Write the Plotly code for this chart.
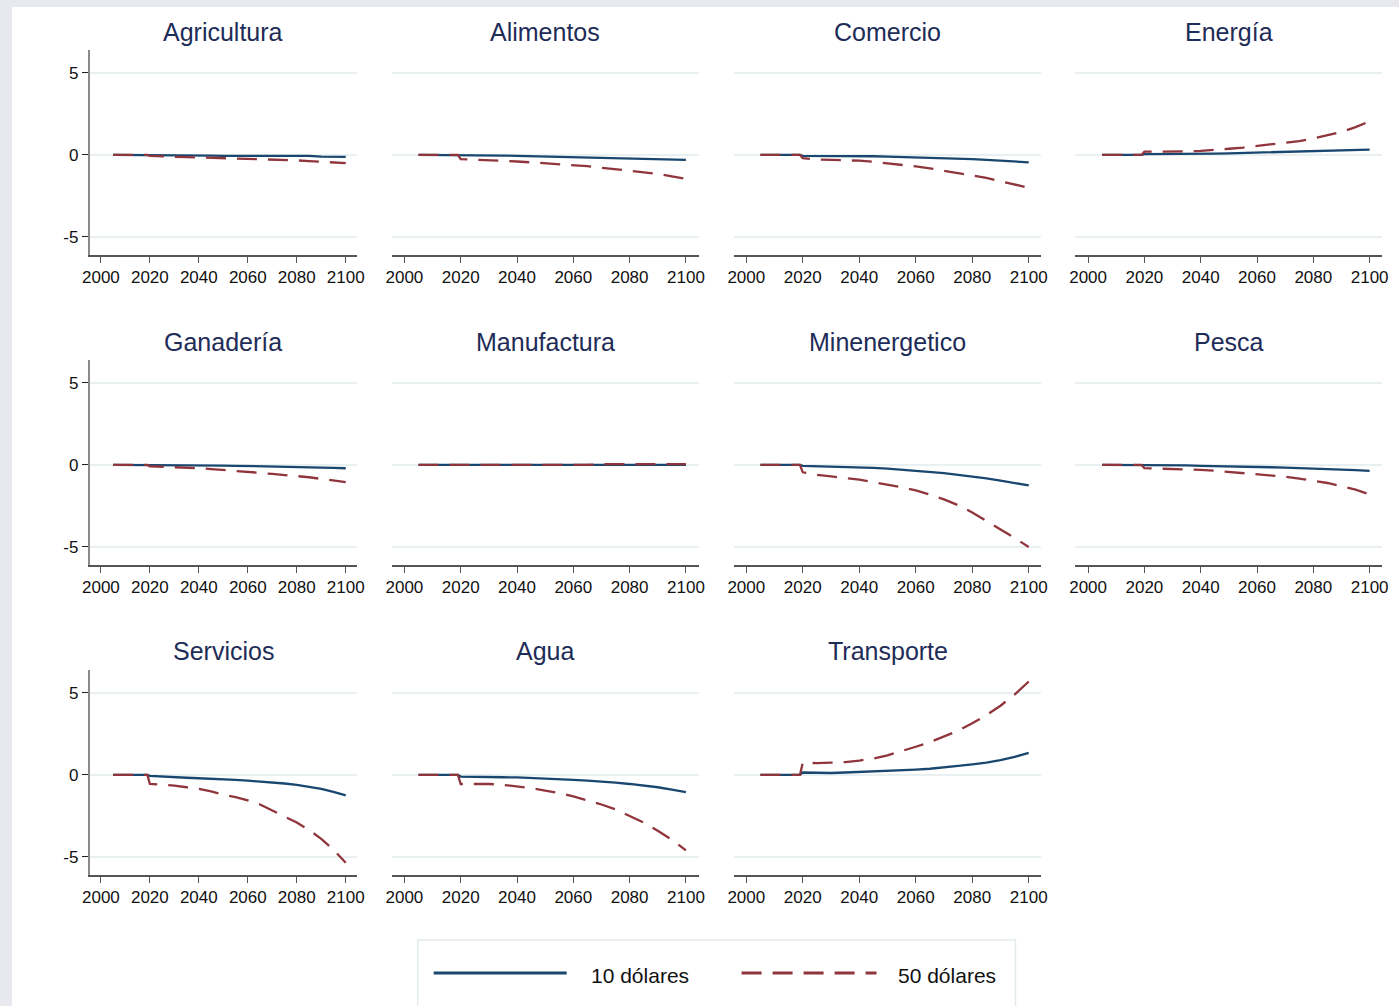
import plotly.graph_objects as go

# Sectoral impact paths (percent change) under two carbon-price scenarios
years = [2005, 2010, 2015, 2019, 2020, 2025, 2030, 2035, 2040, 2045, 2050,
         2055, 2060, 2065, 2070, 2075, 2080, 2085, 2090, 2095, 2100]

sectors = ["Agricultura", "Alimentos", "Comercio", "Energía",
           "Ganadería", "Manufactura", "Minenergetico", "Pesca",
           "Servicios", "Agua", "Transporte"]

agricultura_10 = [0, 0, 0, 0, 0, 0, 0, -0.03, -0.04, -0.04, -0.05, -0.05, -0.05, -0.05, -0.05, -0.05, -0.05, -0.06, -0.1, -0.11, -0.12]
agricultura_50 = [0, 0, 0, 0, -0.05, -0.1, -0.12, -0.13, -0.15, -0.16, -0.18, -0.2, -0.22, -0.25, -0.28, -0.3, -0.33, -0.37, -0.4, -0.45, -0.5]

alimentos_10 = [0, 0, 0, 0, 0, -0.02, -0.03, -0.04, -0.05, -0.07, -0.08, -0.1, -0.12, -0.14, -0.16, -0.18, -0.2, -0.22, -0.25, -0.28, -0.3]
alimentos_50 = [0, 0, 0, 0, -0.25, -0.28, -0.3, -0.35, -0.4, -0.45, -0.5, -0.55, -0.6, -0.68, -0.78, -0.88, -0.95, -1.05, -1.15, -1.3, -1.45]

comercio_10 = [0, 0, 0, 0, -0.05, -0.05, -0.05, -0.05, -0.06, -0.08, -0.1, -0.12, -0.15, -0.17, -0.2, -0.22, -0.25, -0.3, -0.35, -0.4, -0.45]
comercio_50 = [0, 0, 0, 0, -0.2, -0.28, -0.3, -0.32, -0.35, -0.42, -0.5, -0.6, -0.7, -0.82, -0.95, -1.1, -1.25, -1.4, -1.6, -1.8, -2.0]

energia_10 = [0, 0, 0, 0, 0.05, 0.05, 0.05, 0.06, 0.07, 0.08, 0.1, 0.12, 0.15, 0.16, 0.18, 0.19, 0.2, 0.22, 0.25, 0.28, 0.32]
energia_50 = [0, 0, 0, 0, 0.2, 0.2, 0.2, 0.22, 0.25, 0.3, 0.38, 0.45, 0.55, 0.62, 0.72, 0.85, 1.0, 1.18, 1.4, 1.7, 2.05]

ganaderia_10 = [0, 0, 0, 0, 0, 0, 0, 0, -0.01, -0.02, -0.04, -0.05, -0.06, -0.08, -0.1, -0.11, -0.12, -0.14, -0.16, -0.18, -0.2]
ganaderia_50 = [0, 0, 0, 0, -0.08, -0.1, -0.12, -0.15, -0.2, -0.25, -0.3, -0.35, -0.4, -0.48, -0.55, -0.6, -0.68, -0.75, -0.85, -0.95, -1.05]

manufactura_10 = [0, 0, 0, 0, 0, 0, 0, 0, 0, 0, 0, 0, 0, 0, 0, 0, 0, 0, 0, 0, 0]
manufactura_50 = [0, 0, 0, 0, 0.03, 0.03, 0.02, 0.02, 0, 0, 0, 0, 0, 0, 0.05, 0.05, 0.05, 0.05, 0.05, 0.05, 0.05]

minenergetico_10 = [0, 0, 0, 0, -0.05, -0.07, -0.1, -0.12, -0.15, -0.18, -0.22, -0.28, -0.35, -0.42, -0.5, -0.6, -0.7, -0.82, -0.95, -1.1, -1.25]
minenergetico_50 = [0, 0, 0, 0, -0.45, -0.6, -0.7, -0.8, -0.9, -1.05, -1.2, -1.35, -1.55, -1.8, -2.1, -2.45, -2.9, -3.4, -3.95, -4.45, -5.0]

pesca_10 = [0, 0, 0, 0, 0, 0, -0.02, -0.03, -0.05, -0.06, -0.08, -0.1, -0.12, -0.14, -0.16, -0.18, -0.2, -0.24, -0.28, -0.32, -0.36]
pesca_50 = [0, 0, 0, 0, -0.2, -0.22, -0.25, -0.27, -0.3, -0.35, -0.42, -0.48, -0.55, -0.63, -0.72, -0.83, -0.95, -1.1, -1.3, -1.5, -1.8]

servicios_10 = [0, 0, 0, 0, -0.05, -0.1, -0.15, -0.17, -0.2, -0.22, -0.25, -0.3, -0.35, -0.4, -0.45, -0.52, -0.6, -0.72, -0.85, -1.03, -1.25]
servicios_50 = [0, 0, 0, 0, -0.55, -0.6, -0.65, -0.75, -0.85, -1.0, -1.2, -1.35, -1.55, -1.8, -2.15, -2.5, -2.9, -3.35, -3.9, -4.55, -5.35]

agua_10 = [0, 0, 0, 0, -0.1, -0.1, -0.12, -0.14, -0.15, -0.18, -0.2, -0.25, -0.3, -0.35, -0.4, -0.47, -0.55, -0.65, -0.75, -0.9, -1.05]
agua_50 = [0, 0, 0, 0, -0.55, -0.55, -0.55, -0.6, -0.7, -0.8, -0.95, -1.1, -1.3, -1.55, -1.8, -2.1, -2.5, -2.9, -3.4, -3.95, -4.6]

transporte_10 = [0, 0, 0, 0, 0.15, 0.13, 0.12, 0.15, 0.18, 0.2, 0.25, 0.28, 0.33, 0.38, 0.45, 0.55, 0.65, 0.75, 0.9, 1.1, 1.35]
transporte_50 = [0, 0, 0, 0, 0.75, 0.72, 0.75, 0.78, 0.88, 1.0, 1.2, 1.45, 1.72, 2.0, 2.33, 2.7, 3.15, 3.65, 4.22, 4.9, 5.7]

series_10 = [agricultura_10, alimentos_10, comercio_10, energia_10,
             ganaderia_10, manufactura_10, minenergetico_10, pesca_10,
             servicios_10, agua_10, transporte_10]
series_50 = [agricultura_50, alimentos_50, comercio_50, energia_50,
             ganaderia_50, manufactura_50, minenergetico_50, pesca_50,
             servicios_50, agua_50, transporte_50]

x_ticks = [2000, 2020, 2040, 2060, 2080, 2100]
y_ticks = [-5, 0, 5]
y_tick_labels = ["-5", "0", "5"]
legend_labels = ["10 dólares", "50 dólares"]

W, H = 1399, 1006
BLUE = "#1a476f"
RED = "#90353b"
TITLE_COLOR = "#1e2c58"
GRID = "#e8f0f2"
AXIS = "#555555"
FONT = "Liberation Sans, Arial, sans-serif"
DASH = "20px,11px"


def px_x(p):
    # horizontal pixel position -> paper fraction (page offset corrected)
    return ((p - 7.1) / 0.989) / W


def px_y(p):
    return 1 - p / H


# pixel extents of each panel column / row
col_px = [(89, 356), (391, 698), (733, 1041), (1075, 1382)]
row_px = [(50, 255), (360, 565), (670, 875)]
title_px = [32, 342, 651]

fig = go.Figure()
annotations = []

for i, name in enumerate(sectors):
    r, c = divmod(i, 4)
    k = i + 1
    xa = "x" if k == 1 else f"x{k}"
    ya = "y" if k == 1 else f"y{k}"
    fig.add_trace(go.Scatter(x=years, y=series_10[i], mode="lines",
                             line=dict(color=BLUE, width=2.3),
                             xaxis=xa, yaxis=ya, showlegend=False,
                             name=legend_labels[0]))
    fig.add_trace(go.Scatter(x=years, y=series_50[i], mode="lines",
                             line=dict(color=RED, width=2.3, dash=DASH),
                             xaxis=xa, yaxis=ya, showlegend=False,
                             name=legend_labels[1]))
    x0, x1 = col_px[c]
    y0, y1 = row_px[r]
    first_col = c == 0
    fig.layout[f"xaxis{'' if k == 1 else k}"] = dict(
        domain=[px_x(x0), px_x(x1)], anchor=ya, range=[1995.5, 2104.5],
        tickvals=x_ticks, ticks="outside", ticklen=6, tickwidth=1.3,
        tickcolor=AXIS, showline=True, linecolor=AXIS, linewidth=1.5,
        showgrid=False, zeroline=False,
        tickfont=dict(family=FONT, size=17, color="#111111"))
    fig.layout[f"yaxis{'' if k == 1 else k}"] = dict(
        domain=[px_y(y1), px_y(y0)], anchor=xa, range=[-6.1, 6.4],
        tickvals=y_ticks, ticktext=y_tick_labels,
        showgrid=True, gridcolor=GRID, gridwidth=1.6,
        zeroline=False, showline=first_col, linecolor="#8a8a8a",
        linewidth=2, ticks="outside" if first_col else "",
        ticklen=6, tickwidth=1.3, tickcolor="#222222",
        showticklabels=first_col,
        tickfont=dict(family=FONT, size=17, color="#111111"))
    annotations.append(dict(
        text=name, x=px_x((x0 + x1) / 2), y=px_y(title_px[r]),
        xref="paper", yref="paper", xanchor="center", yanchor="middle",
        showarrow=False, font=dict(family=FONT, size=25, color=TITLE_COLOR)))

# legend drawn as a framed key below the panels
annotations.append(dict(text=legend_labels[0], x=px_x(588), y=px_y(975),
                        xref="paper", yref="paper", xanchor="left",
                        yanchor="middle", showarrow=False,
                        font=dict(family=FONT, size=21, color="#111111")))
annotations.append(dict(text=legend_labels[1], x=px_x(895), y=px_y(975),
                        xref="paper", yref="paper", xanchor="left",
                        yanchor="middle", showarrow=False,
                        font=dict(family=FONT, size=21, color="#111111")))

shapes = [
    dict(type="rect", xref="paper", yref="paper", layer="below",
         x0=px_x(11), x1=1.01, y0=-0.01, y1=px_y(7),
         fillcolor="white", line=dict(width=0)),
    dict(type="rect", xref="paper", yref="paper", layer="below",
         x0=px_x(417), x1=px_x(1015), y0=px_y(1012), y1=px_y(940),
         fillcolor="white", line=dict(color="#e3ebee", width=1.5)),
    dict(type="line", xref="paper", yref="paper",
         x0=px_x(433), x1=px_x(566), y0=px_y(973), y1=px_y(973),
         line=dict(color=BLUE, width=3)),
    dict(type="line", xref="paper", yref="paper",
         x0=px_x(741), x1=px_x(876), y0=px_y(973), y1=px_y(973),
         line=dict(color=RED, width=3, dash=DASH)),
]

fig.update_layout(
    width=W, height=H, margin=dict(l=0, r=0, t=0, b=0),
    paper_bgcolor="#e7e9ee", plot_bgcolor="rgba(0,0,0,0)",
    annotations=annotations, shapes=shapes, showlegend=False,
    font=dict(family=FONT),
)

fig.write_html("out.html")
